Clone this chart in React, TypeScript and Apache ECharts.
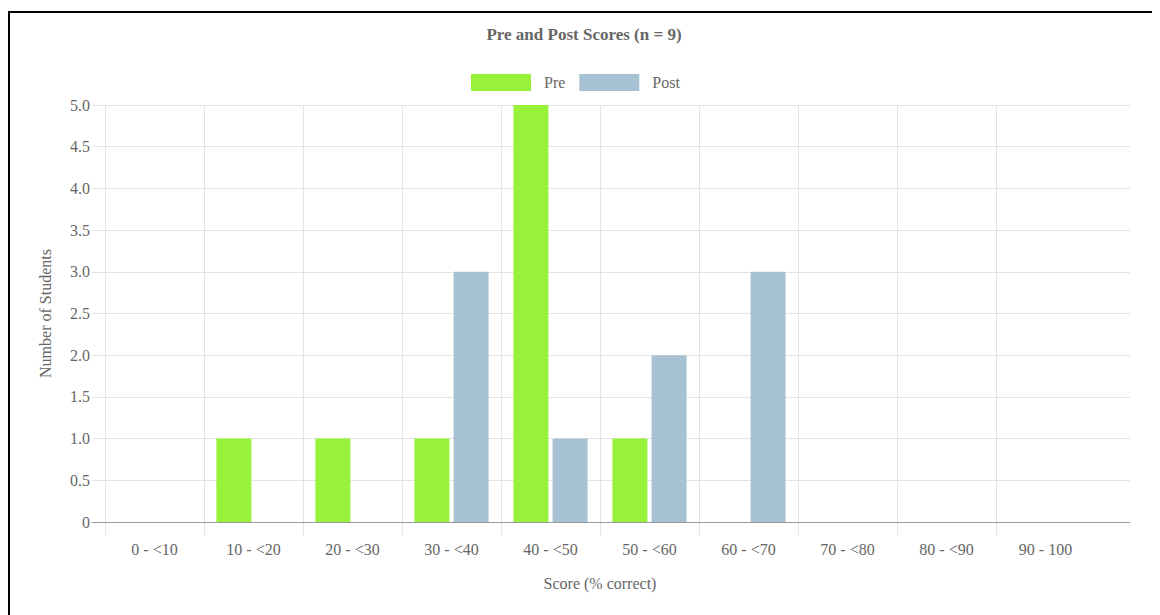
import React, { useEffect, useRef } from "react";
import * as echarts from "echarts";

const categories = ["0 - <10", "10 - <20", "20 - <30", "30 - <40", "40 - <50", "50 - <60", "60 - <70", "70 - <80", "80 - <90", "90 - 100"];
const preValues = [0, 1, 1, 1, 5, 1, 0, 0, 0, 0];
const postValues = [0, 0, 0, 3, 1, 2, 3, 0, 0, 0];
const yMin = 0;
const yMax = 5;
const yStep = 0.5;

const FONT = "'Liberation Serif', 'DejaVu Serif', serif";
const TEXT = "#666666";
const GRID = "#e4e4e4";

export default function App() {
  const ref = useRef<HTMLDivElement>(null);
  useEffect(() => {
    if (!ref.current) return;
    const chart = echarts.init(ref.current, undefined, { renderer: "svg" });
    const top = 97;
    const bottom = 93;
    chart.setOption({
      animation: false,
      title: {
        text: "Pre and Post Scores (n = 9)",
        left: "center",
        top: 13,
        textStyle: { fontFamily: FONT, fontSize: 17, fontWeight: "bold", color: TEXT },
      },
      legend: {
        top: 61,
        left: 458,
        itemWidth: 60,
        itemHeight: 17,
        itemGap: 14,
        icon: "rect",
        data: ["Pre", "Post"],
        textStyle: { fontFamily: FONT, fontSize: 16, color: TEXT, padding: [0, 0, 0, 8] },
      },
      grid: [
        { left: 97, right: 65, top, bottom, containLabel: false },
        { left: 84, right: 30, top, bottom, containLabel: false },
        { left: 97, right: 65, top, bottom: bottom - 13, containLabel: false },
      ],
      xAxis: [
        {
          type: "category",
          gridIndex: 0,
          data: categories,
          axisLine: { show: false },
          axisTick: { show: false },
          splitLine: { show: false },
          axisLabel: { margin: 19, color: TEXT, fontFamily: FONT, fontSize: 16 },
          name: "Score (% correct)",
          nameLocation: "middle",
          nameGap: 53,
          nameTextStyle: { fontFamily: FONT, fontSize: 16, color: TEXT },
        },
        {
          type: "value",
          gridIndex: 1,
          min: 0,
          max: 1,
          axisLine: { show: true, lineStyle: { color: "#9a9a9a", width: 1 } },
          axisTick: { show: false },
          axisLabel: { show: false },
          splitLine: { show: false },
        },
        {
          type: "value",
          gridIndex: 2,
          min: 0,
          max: categories.length,
          interval: 1,
          axisLine: { show: false },
          axisTick: { show: false },
          axisLabel: { show: false },
          splitLine: { show: true, showMaxLine: false, lineStyle: { color: GRID, width: 1 } },
        },
      ],
      yAxis: [
        {
          type: "value",
          gridIndex: 0,
          min: yMin,
          max: yMax,
          interval: yStep,
          axisLine: { show: false },
          axisTick: { show: false },
          splitLine: { show: false },
          axisLabel: {
            margin: 15,
            color: TEXT,
            fontFamily: FONT,
            fontSize: 16,
            formatter: (v: number) => (v === 0 ? "0" : v.toFixed(1)),
          },
          name: "Number of Students",
          nameLocation: "middle",
          nameGap: 52,
          nameTextStyle: { fontFamily: FONT, fontSize: 16, color: TEXT },
        },
        {
          type: "value",
          gridIndex: 1,
          min: yMin,
          max: yMax,
          interval: yStep,
          axisLine: { show: false },
          axisTick: { show: false },
          axisLabel: { show: false },
          splitLine: { show: true, lineStyle: { color: GRID, width: 1 } },
        },
        {
          type: "value",
          gridIndex: 2,
          min: 0,
          max: 1,
          axisLine: { show: false },
          axisTick: { show: false },
          axisLabel: { show: false },
          splitLine: { show: false },
        },
      ],
      series: [
        {
          name: "Pre",
          type: "bar",
          xAxisIndex: 0,
          yAxisIndex: 0,
          data: preValues,
          barWidth: 35,
          barGap: "12%",
          itemStyle: { color: "#99f23a" },
          z: 5,
        },
        {
          name: "Post",
          type: "bar",
          xAxisIndex: 0,
          yAxisIndex: 0,
          data: postValues,
          barWidth: 35,
          barGap: "12%",
          itemStyle: { color: "#a7c3d3" },
          z: 5,
        },
      ],
    });
    return () => chart.dispose();
  }, []);
  return (
    <div style={{ position: "relative", width: 1152, height: 607 }}>
      <div ref={ref} style={{ position: "absolute", left: 0, top: 0, width: 1152, height: 607 }} />
      <div
        style={{
          position: "absolute",
          left: 0,
          top: 3,
          right: 0,
          bottom: 0,
          borderTop: "2px solid #000",
          borderLeft: "2px solid #000",
          pointerEvents: "none",
        }}
      />
    </div>
  );
}
